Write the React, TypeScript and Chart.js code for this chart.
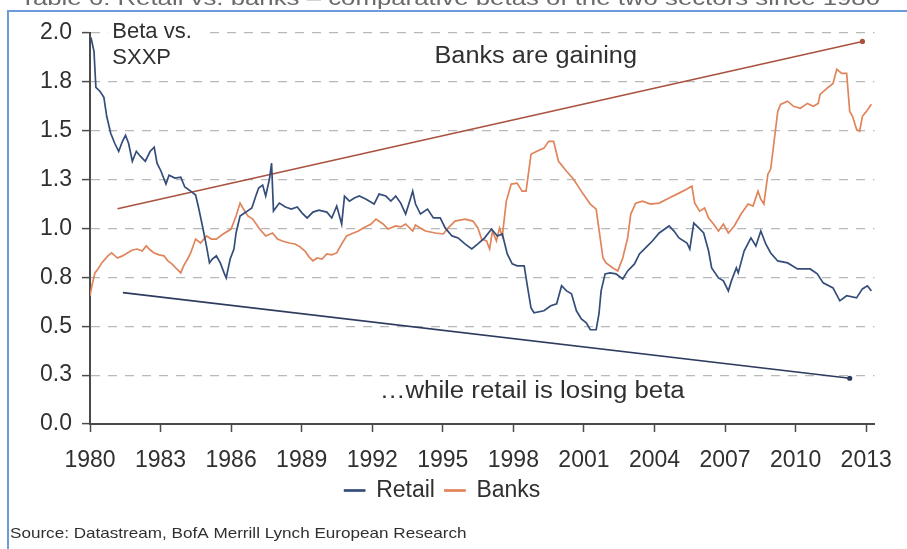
import { useEffect, useRef } from 'react';
import { Chart, registerables } from 'chart.js';

Chart.register(...registerables);

// ---------- data ----------
const retailYears = [
  1980.04, 1980.17, 1980.25, 1980.42, 1980.59, 1980.71, 1980.88, 1981.05, 1981.22, 1981.38,
  1981.51, 1981.64, 1981.80, 1981.97, 1982.14, 1982.35, 1982.56, 1982.73, 1982.85, 1983.02,
  1983.23, 1983.36, 1983.61, 1983.86, 1984.03, 1984.28, 1984.49, 1984.61, 1984.78, 1984.95,
  1985.08, 1985.20, 1985.37, 1985.54, 1985.70, 1985.79, 1985.96, 1986.12, 1986.21, 1986.38,
  1986.63, 1986.88, 1987.05, 1987.17, 1987.34, 1987.47, 1987.63, 1987.72, 1987.80, 1988.05,
  1988.31, 1988.56, 1988.81, 1989.02, 1989.23, 1989.48, 1989.73, 1990.07, 1990.28, 1990.49,
  1990.70, 1990.82, 1991.03, 1991.24, 1991.45, 1991.74, 1992.08, 1992.29, 1992.58, 1992.79,
  1993.00, 1993.21, 1993.42, 1993.59, 1993.72, 1993.84, 1994.05, 1994.35, 1994.60, 1994.89,
  1995.10, 1995.39, 1995.65, 1995.94, 1996.23, 1996.49, 1996.78, 1997.07, 1997.32, 1997.53,
  1997.74, 1997.95, 1998.16, 1998.46, 1998.58, 1998.75, 1998.88, 1999.30, 1999.59, 1999.84,
  2000.05, 2000.26, 2000.47, 2000.68, 2000.89, 2001.10, 2001.27, 2001.52, 2001.64, 2001.73,
  2001.90, 2002.11, 2002.36, 2002.65, 2002.86, 2003.15, 2003.36, 2003.66, 2003.91, 2004.20,
  2004.62, 2004.83, 2005.04, 2005.38, 2005.50, 2005.67, 2005.88, 2006.09, 2006.30, 2006.43,
  2006.72, 2006.93, 2007.14, 2007.27, 2007.48, 2007.56, 2007.81, 2008.10, 2008.31, 2008.52,
  2008.73, 2008.94, 2009.24, 2009.66, 2010.08, 2010.62, 2010.92, 2011.17, 2011.59, 2011.88,
  2012.17, 2012.59, 2012.84, 2013.05, 2013.22,
];
const retailBeta = [
  1.977, 1.906, 1.722, 1.702, 1.671, 1.574, 1.487, 1.436, 1.395, 1.446,
  1.477, 1.436, 1.344, 1.395, 1.370, 1.344, 1.395, 1.416, 1.334, 1.293,
  1.227, 1.273, 1.258, 1.263, 1.212, 1.191, 1.171, 1.110, 1.013, 0.911,
  0.824, 0.844, 0.860, 0.824, 0.773, 0.747, 0.844, 0.895, 0.977, 1.064,
  1.084, 1.105, 1.166, 1.207, 1.222, 1.166, 1.253, 1.334, 1.089, 1.130,
  1.110, 1.099, 1.110, 1.079, 1.054, 1.084, 1.094, 1.084, 1.054, 1.115,
  1.023, 1.166, 1.140, 1.156, 1.166, 1.150, 1.125, 1.176, 1.166, 1.140,
  1.166, 1.130, 1.074, 1.140, 1.191, 1.125, 1.074, 1.099, 1.054, 1.054,
  1.003, 0.962, 0.952, 0.921, 0.895, 0.921, 0.952, 0.997, 0.962, 0.972,
  0.870, 0.819, 0.809, 0.809, 0.717, 0.594, 0.569, 0.579, 0.605, 0.615,
  0.707, 0.681, 0.666, 0.579, 0.538, 0.518, 0.482, 0.482, 0.564, 0.681,
  0.768, 0.773, 0.768, 0.742, 0.783, 0.819, 0.870, 0.906, 0.936, 0.977,
  1.013, 0.987, 0.952, 0.926, 0.895, 1.028, 1.003, 0.977, 0.885, 0.798,
  0.747, 0.732, 0.681, 0.732, 0.798, 0.773, 0.885, 0.952, 0.911, 0.987,
  0.921, 0.875, 0.834, 0.824, 0.793, 0.793, 0.768, 0.722, 0.696, 0.630,
  0.656, 0.645, 0.691, 0.707, 0.681,
];

const banksYears = [
  1980.00, 1980.08, 1980.21, 1980.34, 1980.50, 1980.76, 1980.92, 1981.17, 1981.38, 1981.59,
  1981.80, 1982.01, 1982.22, 1982.39, 1982.56, 1982.73, 1982.94, 1983.15, 1983.31, 1983.48,
  1983.69, 1983.86, 1983.98, 1984.15, 1984.28, 1984.49, 1984.70, 1984.95, 1985.16, 1985.37,
  1985.66, 1986.00, 1986.21, 1986.38, 1986.50, 1986.71, 1986.92, 1987.21, 1987.47, 1987.76,
  1987.97, 1988.18, 1988.47, 1988.72, 1988.93, 1989.14, 1989.31, 1989.48, 1989.65, 1989.86,
  1990.07, 1990.28, 1990.49, 1990.70, 1990.91, 1991.20, 1991.41, 1991.62, 1991.95, 1992.16,
  1992.46, 1992.67, 1993.00, 1993.21, 1993.42, 1993.72, 1993.84, 1993.97, 1994.26, 1994.68,
  1995.02, 1995.23, 1995.52, 1995.94, 1996.28, 1996.49, 1996.65, 1996.86, 1996.99, 1997.11,
  1997.28, 1997.41, 1997.53, 1997.70, 1997.91, 1998.16, 1998.37, 1998.54, 1998.75, 1999.00,
  1999.30, 1999.50, 1999.71, 1999.92, 2000.26, 2000.55, 2000.97, 2001.27, 2001.52, 2001.69,
  2001.81, 2001.94, 2002.23, 2002.44, 2002.65, 2002.86, 2002.99, 2003.20, 2003.49, 2003.83,
  2004.20, 2004.62, 2005.04, 2005.38, 2005.59, 2005.71, 2005.92, 2006.13, 2006.30, 2006.51,
  2006.72, 2006.93, 2007.14, 2007.39, 2007.68, 2007.98, 2008.19, 2008.40, 2008.52, 2008.65,
  2008.82, 2008.94, 2009.07, 2009.24, 2009.36, 2009.66, 2009.91, 2010.20, 2010.50, 2010.75,
  2010.96, 2011.04, 2011.33, 2011.59, 2011.75, 2011.96, 2012.17, 2012.30, 2012.42, 2012.59,
  2012.72, 2012.84, 2013.01, 2013.22,
];
const banksBeta = [
  0.656, 0.707, 0.773, 0.793, 0.824, 0.860, 0.875, 0.849, 0.860, 0.875,
  0.890, 0.895, 0.885, 0.911, 0.890, 0.875, 0.865, 0.860, 0.834, 0.819,
  0.793, 0.773, 0.809, 0.844, 0.875, 0.946, 0.926, 0.962, 0.946, 0.946,
  0.972, 0.997, 1.064, 1.130, 1.105, 1.064, 1.048, 0.997, 0.962, 0.977,
  0.946, 0.936, 0.926, 0.921, 0.906, 0.885, 0.855, 0.834, 0.849, 0.844,
  0.870, 0.865, 0.875, 0.921, 0.962, 0.977, 0.987, 1.003, 1.023, 1.048,
  1.023, 0.997, 1.013, 1.008, 1.023, 0.987, 1.018, 1.008, 0.987, 0.977,
  0.972, 1.003, 1.038, 1.048, 1.038, 1.003, 0.946, 0.936, 0.895, 0.987,
  0.936, 1.003, 0.962, 1.140, 1.227, 1.232, 1.191, 1.191, 1.380, 1.395,
  1.411, 1.446, 1.446, 1.344, 1.293, 1.253, 1.176, 1.125, 1.099, 0.952,
  0.849, 0.824, 0.798, 0.783, 0.849, 0.952, 1.074, 1.130, 1.140, 1.125,
  1.130, 1.156, 1.181, 1.202, 1.217, 1.130, 1.089, 1.105, 1.054, 1.023,
  0.987, 1.023, 0.977, 1.013, 1.074, 1.125, 1.115, 1.191, 1.150, 1.125,
  1.278, 1.304, 1.431, 1.599, 1.635, 1.651, 1.625, 1.615, 1.640, 1.625,
  1.640, 1.686, 1.717, 1.742, 1.814, 1.793, 1.793, 1.599, 1.574, 1.508,
  1.497, 1.574, 1.599, 1.635,
];

const banksTrendYears = [1981.17, 2012.84];
const banksTrendBeta = [1.101, 1.957];
const retailTrendYears = [1981.4, 2012.3];
const retailTrendBeta = [0.672, 0.234];

const xTickYears = [1980, 1983, 1986, 1989, 1992, 1995, 1998, 2001, 2004, 2007, 2010, 2013];
const yTickValues = [0, 0.25, 0.5, 0.75, 1.0, 1.25, 1.5, 1.75, 2.0];
const yTickLabels = ['0.0', '0.3', '0.5', '0.8', '1.0', '1.3', '1.5', '1.8', '2.0'];

const seriesLabels = ['Retail', 'Banks'];
const annotationBeta = ['Beta vs.', 'SXXP'];
const annotationBanks = 'Banks are gaining';
const annotationRetail = '\u2026while retail is losing beta';
const sourceText = 'Source: Datastream, BofA Merrill Lynch European Research';
const captionText = 'Table 6: Retail vs. banks \u2013 comparative betas of the two sectors since 1980';

// ---------- styles ----------
const FONT = "'Liberation Sans', Arial, sans-serif";
const RETAIL_COLOR = '#344d7a';
const BANKS_COLOR = '#e0845a';
const BANKS_TREND = '#a9523f';
const RETAIL_TREND = '#2e3b5e';
const AXIS = '#4a4a4a';
const GRID = '#b9b9b9';
const TEXT = '#303030';
const FRAME = '#6b9bd8';

function drawText(
  ctx: CanvasRenderingContext2D,
  text: string,
  x: number,
  y: number,
  size: number,
  color: string,
  scaleX: number,
  align: 'left' | 'center',
) {
  ctx.save();
  ctx.font = `${size}px ${FONT}`;
  ctx.fillStyle = color;
  ctx.textBaseline = 'alphabetic';
  ctx.textAlign = 'left';
  const w = ctx.measureText(text).width * scaleX;
  const left = align === 'center' ? x - w / 2 : x;
  ctx.translate(left, y);
  ctx.scale(scaleX, 1);
  ctx.fillText(text, 0, 0);
  ctx.restore();
  return w;
}

const decorPlugin = {
  id: 'decor',
  afterDraw(chart: any) {
    const ctx: CanvasRenderingContext2D = chart.ctx;
    const xs = chart.scales.x;
    const ys = chart.scales.y;

    // caption of the page above (cut off at the top)
    ctx.save();
    ctx.font = `20px ${FONT}`;
    const cw = ctx.measureText(captionText).width;
    ctx.restore();
    drawText(ctx, captionText, 20, 5, 20, '#6a6a6a', 860 / cw, 'left');

    // frame
    ctx.save();
    ctx.strokeStyle = FRAME;
    ctx.lineWidth = 2;
    ctx.beginPath();
    ctx.moveTo(907, 11);
    ctx.lineTo(8, 11);
    ctx.lineTo(8, 549);
    ctx.stroke();
    ctx.restore();

    // "Beta vs. SXXP" box
    const bx = xs.getPixelForValue(1980.95);
    ctx.save();
    ctx.fillStyle = '#ffffff';
    ctx.fillRect(bx - 4, ys.getPixelForValue(2.0) - 4, 100, 40);
    ctx.restore();
    drawText(ctx, annotationBeta[0], bx, ys.getPixelForValue(1.972), 22, TEXT, 1.0, 'left');
    drawText(ctx, annotationBeta[1], bx, ys.getPixelForValue(1.839), 22, TEXT, 1.0, 'left');

    drawText(ctx, annotationBanks, xs.getPixelForValue(1998.95), ys.getPixelForValue(1.844), 23, TEXT, 1.1, 'center');
    drawText(ctx, annotationRetail, xs.getPixelForValue(1998.8), ys.getPixelForValue(0.135), 23, TEXT, 1.12, 'center');

    // source
    drawText(ctx, sourceText, 10, 538, 15, TEXT, 1.14, 'left');
  },
};

export default function App() {
  const canvasRef = useRef<HTMLCanvasElement | null>(null);

  useEffect(() => {
    if (!canvasRef.current) return;
    const toXY = (xs: number[], ys: number[]) => xs.map((x, i) => ({ x, y: ys[i] }));
    const tickFont = { family: FONT, size: 23 };

    const chart = new Chart(canvasRef.current, {
      type: 'line',
      data: {
        datasets: [
          {
            label: seriesLabels[0],
            data: toXY(retailYears, retailBeta),
            borderColor: RETAIL_COLOR,
            backgroundColor: RETAIL_COLOR,
            borderWidth: 1.7,
            pointRadius: 0,
            tension: 0,
          },
          {
            label: seriesLabels[1],
            data: toXY(banksYears, banksBeta),
            borderColor: BANKS_COLOR,
            backgroundColor: BANKS_COLOR,
            borderWidth: 1.7,
            pointRadius: 0,
            tension: 0,
          },
          {
            label: 'Banks trend',
            data: toXY(banksTrendYears, banksTrendBeta),
            borderColor: BANKS_TREND,
            backgroundColor: BANKS_TREND,
            borderWidth: 1.6,
            pointRadius: (c: any) => (c.dataIndex === 1 ? 1.8 : 0),
            tension: 0,
          },
          {
            label: 'Retail trend',
            data: toXY(retailTrendYears, retailTrendBeta),
            borderColor: RETAIL_TREND,
            backgroundColor: RETAIL_TREND,
            borderWidth: 1.6,
            pointRadius: (c: any) => (c.dataIndex === 1 ? 1.8 : 0),
            tension: 0,
          },
        ],
      },
      options: {
        responsive: false,
        animation: false,
        devicePixelRatio: 1,
        layout: { padding: { top: 33, right: 22, bottom: 37, left: 0 } },
        scales: {
          x: {
            type: 'linear',
            min: 1980,
            max: 2013.35,
            afterFit: (s: any) => {
              s.height = 45;
            },
            afterBuildTicks: (s: any) => {
              s.ticks = xTickYears.map((v) => ({ value: v }));
            },
            ticks: {
              callback: (v: any) => String(v),
              font: tickFont,
              color: TEXT,
              padding: 15,
              maxRotation: 0,
              autoSkip: false,
            },
            grid: {
              drawOnChartArea: false,
              drawTicks: true,
              tickLength: 8,
              tickColor: AXIS,
              tickWidth: 1.5,
            },
            border: { color: AXIS, width: 2 },
          },
          y: {
            type: 'linear',
            min: 0,
            max: 2,
            afterFit: (s: any) => {
              s.width = 90;
            },
            afterBuildTicks: (s: any) => {
              s.ticks = yTickValues.map((v) => ({ value: v }));
            },
            ticks: {
              callback: (_v: any, i: number) => yTickLabels[i],
              font: tickFont,
              color: TEXT,
              padding: 10,
            },
            grid: {
              color: (c: any) => (c.tick && c.tick.value === 0 ? 'rgba(0,0,0,0)' : GRID),
              lineWidth: 1.2,
              tickLength: 8,
              tickColor: AXIS,
              tickWidth: 1.5,
              tickBorderDash: [],
            },
            border: { color: AXIS, width: 2, dash: [9, 8] },
          },
        },
        plugins: {
          legend: {
            position: 'bottom',
            labels: {
              filter: (item: any) => item.datasetIndex < 2,
              boxWidth: 20,
              boxHeight: 1,
              font: tickFont,
              color: TEXT,
              padding: 10,
            },
          },
          tooltip: { enabled: false },
        },
      } as any,
      plugins: [decorPlugin],
    });

    return () => chart.destroy();
  }, []);

  return (
    <div style={{ position: 'fixed', left: 0, top: 0, width: 907, height: 549, background: '#ffffff' }}>
      <canvas ref={canvasRef} width={907} height={549} style={{ display: 'block', width: 907, height: 549 }} />
    </div>
  );
}
